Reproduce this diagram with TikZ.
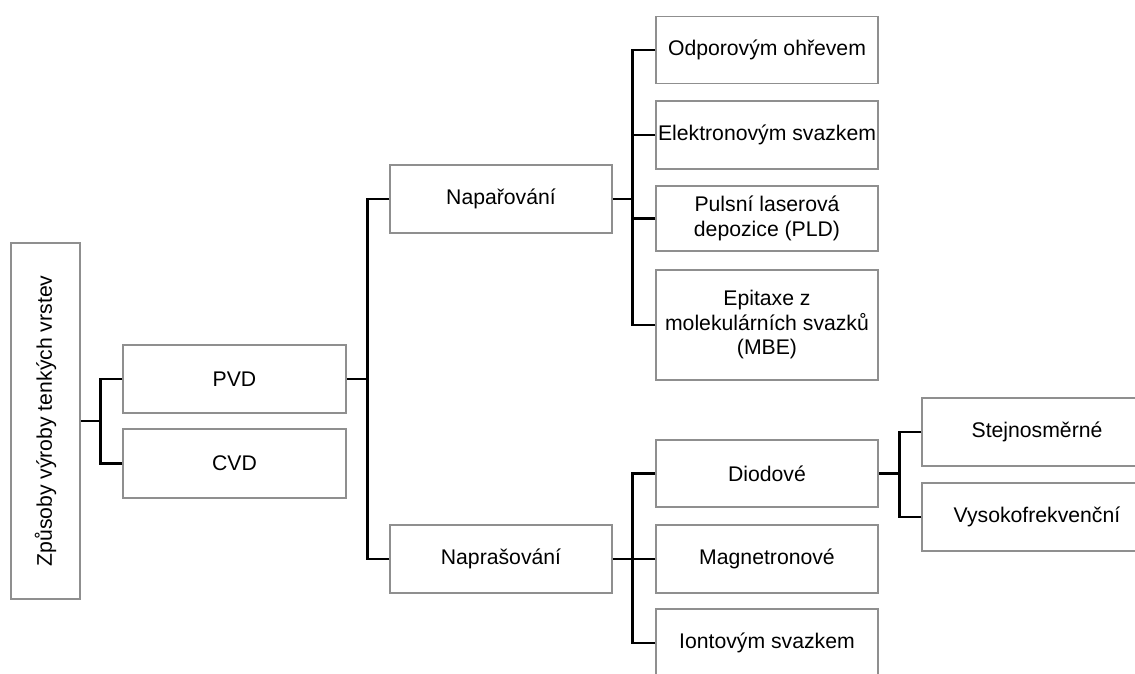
\documentclass[tikz,border=0pt]{standalone}
\usepackage{fontspec}
\setmainfont{Liberation Sans}
\definecolor{boxgray}{HTML}{8F8F8F}
\begin{document}
\begin{tikzpicture}[x=1pt,y=-1pt,
  box/.style={draw=boxgray, line width=1.3pt, fill=white, minimum width=222pt, minimum height=68pt,
    inner sep=0pt, align=center, font=\fontsize{21.2}{24.5}\selectfont},
  conn/.style={draw=black, line width=2.8pt, line join=miter}]
\useasboundingbox (0,0) rectangle (1135,673);
\clip (0,0) rectangle (1135,673);
% nodes
\node[box, minimum width=69pt, minimum height=356pt] (root) at (45.5,421) {\rotatebox{90}{Způsoby výroby tenkých vrstev}};
\node[box, minimum width=223pt] (pvd) at (234.5,379) {PVD};
\node[box, minimum width=223pt, minimum height=69pt] (cvd) at (234.5,463.5) {CVD};
\node[box] (napar) at (501,199) {Napařování};
\node[box] (naprs) at (501,559) {Naprašování};
\node[box, minimum height=67pt] (odp) at (767,50) {Odporovým ohřevem};
\node[box] (ele) at (767,135) {Elektronovým svazkem};
\node[box, minimum height=65pt] (pld) at (767,218.5) {Pulsní laserová\\depozice (PLD)};
\node[box, minimum height=110pt] (mbe) at (767,325) {Epitaxe z\\molekulárních svazků\\(MBE)};
\node[box, minimum height=67pt] (dio) at (767,473.5) {Diodové};
\node[box] (mag) at (767,559) {Magnetronové};
\node[box] (ion) at (767,643) {Iontovým svazkem};
\node[box, minimum width=230pt] (ste) at (1037,432) {Stejnosměrné};
\node[box, minimum width=230pt] (vys) at (1037,517) {Vysokofrekvenční};
% connectors
\draw[conn] (pvd.west) -- ++(-22,0) |- (root.east);
\draw[conn] (cvd.west) -- ++(-22,0) |- (root.east);
\draw[conn] (napar.west) -- ++(-22,0) |- (pvd.east);
\draw[conn] (naprs.west) -- ++(-22,0) |- (pvd.east);
\draw[conn] (odp.west) -- ++(-23,0) |- (napar.east);
\draw[conn] (ele.west) -- ++(-23,0) |- (napar.east);
\draw[conn] (pld.west) -- ++(-23,0) |- (napar.east);
\draw[conn] (mbe.west) -- ++(-23,0) |- (napar.east);
\draw[conn] (dio.west) -- ++(-23,0) |- (naprs.east);
\draw[conn] (mag.west) -- ++(-23,0) |- (naprs.east);
\draw[conn] (ion.west) -- ++(-23,0) |- (naprs.east);
\draw[conn] (ste.west) -- ++(-22,0) |- (dio.east);
\draw[conn] (vys.west) -- ++(-22,0) |- (dio.east);
\end{tikzpicture}
\end{document}
